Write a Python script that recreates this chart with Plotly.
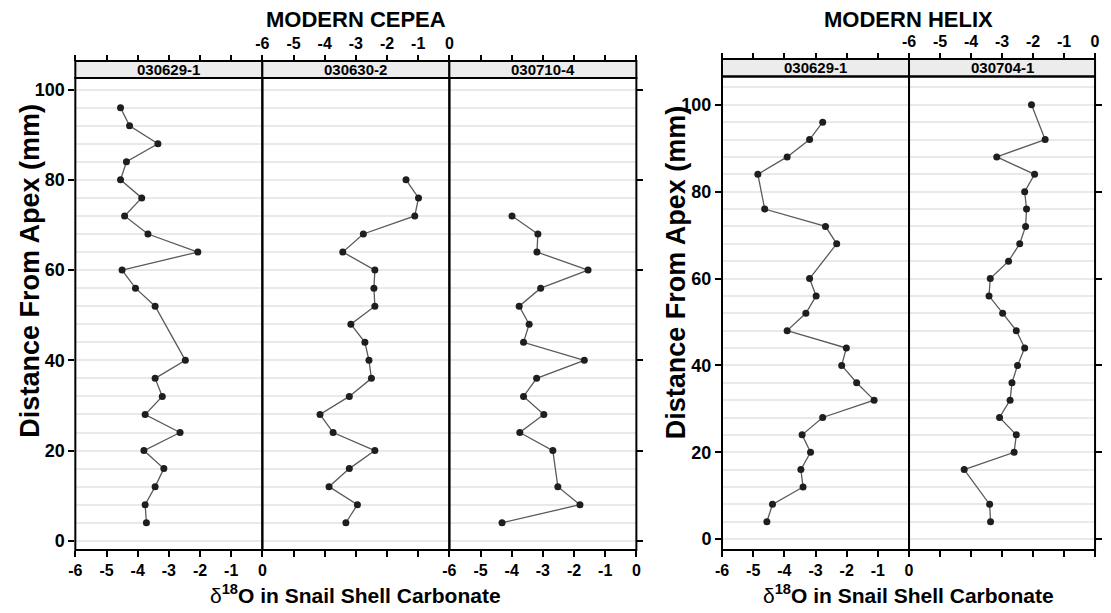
import plotly.graph_objects as go

# ---------------- data ----------------
panel_labels_cepea = ["030629-1", "030630-2", "030710-4"]
panel_labels_helix = ["030629-1", "030704-1"]

cepea1_depth = [96, 92, 88, 84, 80, 76, 72, 68, 64, 60, 56, 52, 40, 36, 32, 28, 24, 20, 16, 12, 8, 4]
cepea1_d18o = [-4.55, -4.26, -3.35, -4.36, -4.55, -3.87, -4.42, -3.67, -2.07, -4.5, -4.07, -3.44,
               -2.47, -3.44, -3.21, -3.76, -2.64, -3.8, -3.16, -3.44, -3.76, -3.72]

cepea2_depth = [80, 76, 72, 68, 64, 60, 56, 52, 48, 44, 40, 36, 32, 28, 24, 20, 16, 12, 8, 4]
cepea2_d18o = [-1.39, -0.99, -1.11, -2.76, -3.42, -2.39, -2.42, -2.39, -3.16, -2.71, -2.58, -2.5,
               -3.21, -4.15, -3.73, -2.39, -3.21, -3.86, -2.95, -3.32]

cepea3_depth = [72, 68, 64, 60, 56, 52, 48, 44, 40, 36, 32, 28, 24, 20, 12, 8, 4]
cepea3_d18o = [-3.99, -3.16, -3.19, -1.55, -3.07, -3.76, -3.44, -3.62, -1.67, -3.2, -3.62, -2.97,
               -3.74, -2.68, -2.52, -1.81, -4.31]

helix1_depth = [96, 92, 88, 84, 76, 72, 68, 60, 56, 52, 48, 44, 40, 36, 32, 28, 24, 20, 16, 12, 8, 4]
helix1_d18o = [-2.77, -3.19, -3.91, -4.85, -4.63, -2.68, -2.32, -3.19, -2.98, -3.31, -3.91, -2.01,
               -2.16, -1.68, -1.12, -2.77, -3.43, -3.16, -3.47, -3.4, -4.38, -4.56]

helix2_depth = [100, 92, 88, 84, 80, 76, 72, 68, 64, 60, 56, 52, 48, 44, 40, 36, 32, 28, 24, 20, 16, 8, 4]
helix2_d18o = [-2.05, -1.61, -3.17, -1.95, -2.27, -2.21, -2.24, -2.43, -2.79, -3.38, -3.42, -2.98,
               -2.54, -2.27, -2.5, -2.68, -2.74, -3.08, -2.54, -2.61, -4.22, -3.4, -3.37]

x_ticks = [-6, -5, -4, -3, -2, -1, 0]
x_ticktext = ["-6", "-5", "-4", "-3", "-2", "-1", "0"]
y_ticks = [0, 20, 40, 60, 80, 100]
y_ticktext = ["0", "20", "40", "60", "80", "100"]

# ---------------- layout geometry ----------------
# The page body keeps an 8px margin on every side, so the figure is made
# 16px smaller than the window to avoid any overflow / scrollbars.
OFF = 8
W, H = 1111 - 2 * OFF, 613 - 2 * OFF
FONT = "Liberation Sans, Arial, Helvetica, sans-serif"
SX = (1103 - 69) / (1108 - 69)   # tiny horizontal squeeze so the right edge fits


def px_x(p):
    r = 69 + SX * (p - 69)
    return (r - OFF) / W


def px_y(p):
    return 1 - (p - OFF) / H


plot_bottom = 551
left_top, right_top = 78, 76.7
left_strip_top, right_strip_top = 61, 59

fig = go.Figure()

line_style = dict(color="#5a5a5a", width=1.3)
marker_style = dict(color="#1e1e1e", size=7)

series = [
    (cepea1_d18o, cepea1_depth, "x", "y"),
    (cepea2_d18o, cepea2_depth, "x2", "y"),
    (cepea3_d18o, cepea3_depth, "x3", "y"),
    (helix1_d18o, helix1_depth, "x4", "y3"),
    (helix2_d18o, helix2_depth, "x5", "y3"),
]
for xs, ys, xa, ya in series:
    fig.add_trace(go.Scatter(x=xs, y=ys, mode="lines+markers", xaxis=xa, yaxis=ya,
                             line=line_style, marker=marker_style, showlegend=False,
                             hoverinfo="x+y"))

# empty traces so that the overlay axes are created
for xa, ya in [("x6", "y"), ("x7", "y"), ("x8", "y"), ("x9", "y3"), ("x10", "y3"),
               ("x3", "y2"), ("x5", "y4")]:
    fig.add_trace(go.Scatter(x=[None], y=[None], xaxis=xa, yaxis=ya, showlegend=False,
                             hoverinfo="skip"))

xtick_font = dict(family=FONT, size=16, color="black", weight=700)
ytick_font = dict(family=FONT, size=18, color="black", weight=700)

common_x = dict(range=[-6, 0], tickvals=x_ticks, ticktext=x_ticktext, ticks="outside",
                ticklen=6, tickwidth=1.5, tickcolor="black", showgrid=False, zeroline=False,
                showline=False, tickfont=xtick_font, fixedrange=True)

ydom_left = [px_y(plot_bottom), px_y(left_top)]
ydom_right = [px_y(plot_bottom), px_y(right_top)]
yrange_left = [-2.06, 102.6]
yrange_right = [-2.53, 106.5]

grid_col = "#e9e9e9"
common_y = dict(tickvals=y_ticks, ticktext=y_ticktext, ticks="outside", ticklen=6, tickwidth=1.5,
                tickcolor="black", showgrid=True, gridcolor=grid_col, gridwidth=1.5,
                zeroline=False, showline=False, tickfont=ytick_font, fixedrange=True,
                minor=dict(dtick=4, tick0=0, showgrid=True, gridcolor=grid_col, gridwidth=1.5,
                           ticks=""))

layout = dict(
    width=W, height=H, margin=dict(l=0, r=0, t=0, b=0),
    paper_bgcolor="white", plot_bgcolor="white", showlegend=False,
    font=dict(family=FONT, color="black"),
)

# bottom x axes (left figure)
layout["xaxis"] = dict(common_x, domain=[px_x(69), px_x(259)], anchor="y", showticklabels=True)
layout["xaxis2"] = dict(common_x, domain=[px_x(259), px_x(449)], anchor="y", showticklabels=False)
layout["xaxis3"] = dict(common_x, domain=[px_x(449), px_x(639)], anchor="y", showticklabels=True)
# bottom x axes (right figure)
layout["xaxis4"] = dict(common_x, domain=[px_x(726), px_x(916)], anchor="y3", showticklabels=True)
layout["xaxis5"] = dict(common_x, domain=[px_x(916), px_x(1105)], anchor="y3", showticklabels=False)

# top x axes (overlays sitting on top of the strips)
layout["xaxis6"] = dict(common_x, overlaying="x", side="top", anchor="free",
                        position=px_y(left_strip_top), showticklabels=False)
layout["xaxis7"] = dict(common_x, overlaying="x2", side="top", anchor="free",
                        position=px_y(left_strip_top), showticklabels=True)
layout["xaxis8"] = dict(common_x, overlaying="x3", side="top", anchor="free",
                        position=px_y(left_strip_top), showticklabels=False)
layout["xaxis9"] = dict(common_x, overlaying="x4", side="top", anchor="free",
                        position=px_y(right_strip_top), showticklabels=False)
layout["xaxis10"] = dict(common_x, overlaying="x5", side="top", anchor="free",
                         position=px_y(right_strip_top), showticklabels=True)

# y axes
layout["yaxis"] = dict(common_y, domain=ydom_left, range=yrange_left, anchor="x")
layout["yaxis2"] = dict(common_y, range=yrange_left, overlaying="y", side="right", anchor="free",
                        position=px_x(639), showticklabels=False, showgrid=False,
                        minor=dict(showgrid=False, ticks=""))
layout["yaxis3"] = dict(common_y, domain=ydom_right, range=yrange_right, anchor="x4")
layout["yaxis4"] = dict(common_y, range=yrange_right, overlaying="y3", side="right", anchor="free",
                        position=px_x(1105), showticklabels=False, showgrid=False,
                        minor=dict(showgrid=False, ticks=""))

fig.update_layout(**layout)

# frames and strips
shapes = []
annotations = []
strip_font = dict(family=FONT, size=15, color="black", weight=700)
panels = [("x", "y", panel_labels_cepea[0], left_top, left_strip_top),
          ("x2", "y", panel_labels_cepea[1], left_top, left_strip_top),
          ("x3", "y", panel_labels_cepea[2], left_top, left_strip_top),
          ("x4", "y3", panel_labels_helix[0], right_top, right_strip_top),
          ("x5", "y3", panel_labels_helix[1], right_top, right_strip_top)]
for xa, ya, lab, ptop, stop in panels:
    plot_h = plot_bottom - ptop
    s1 = 1 + (ptop - stop) / plot_h
    shapes.append(dict(type="rect", xref=f"{xa} domain", yref=f"{ya} domain",
                       x0=0, x1=1, y0=1, y1=s1, fillcolor="#ececec",
                       line=dict(color="black", width=2), layer="above"))
    shapes.append(dict(type="rect", xref=f"{xa} domain", yref=f"{ya} domain",
                       x0=0, x1=1, y0=0, y1=1, line=dict(color="black", width=2), layer="above"))
    annotations.append(dict(text=lab, xref=f"{xa} domain", yref=f"{ya} domain",
                            x=0.5, y=(1 + s1) / 2, showarrow=False, font=strip_font,
                            xanchor="center", yanchor="middle"))

title_font = dict(family=FONT, size=22, color="black", weight=700)
annotations.append(dict(text="MODERN CEPEA", xref="paper", yref="paper", x=px_x(354), y=px_y(20),
                        showarrow=False, font=title_font, xanchor="center", yanchor="middle"))
annotations.append(dict(text="MODERN HELIX", xref="paper", yref="paper", x=px_x(915.5), y=px_y(20),
                        showarrow=False, font=title_font, xanchor="center", yanchor="middle"))

ytitle_font = dict(family=FONT, size=27, color="black", weight=700)
annotations.append(dict(text="Distance From Apex (mm)", xref="paper", yref="paper",
                        x=px_x(22), y=px_y(271), textangle=-90, showarrow=False,
                        font=ytitle_font, xanchor="center", yanchor="middle"))
annotations.append(dict(text="Distance From Apex (mm)", xref="paper", yref="paper",
                        x=px_x(679), y=px_y(273), textangle=-90, showarrow=False,
                        font=ytitle_font, xanchor="center", yanchor="middle"))

xtitle_font = dict(family=FONT, size=21, color="black", weight=700)
xtitle = "<span style='font-weight:normal'>δ</span><sup>18</sup>O in Snail Shell Carbonate"
annotations.append(dict(text=xtitle, xref="paper", yref="paper", x=px_x(354), y=px_y(595),
                        showarrow=False, font=xtitle_font, xanchor="center", yanchor="middle"))
annotations.append(dict(text=xtitle, xref="paper", yref="paper", x=px_x(915.5), y=px_y(595),
                        showarrow=False, font=xtitle_font, xanchor="center", yanchor="middle"))

fig.update_layout(shapes=shapes, annotations=annotations)

fig.write_html("out.html")
